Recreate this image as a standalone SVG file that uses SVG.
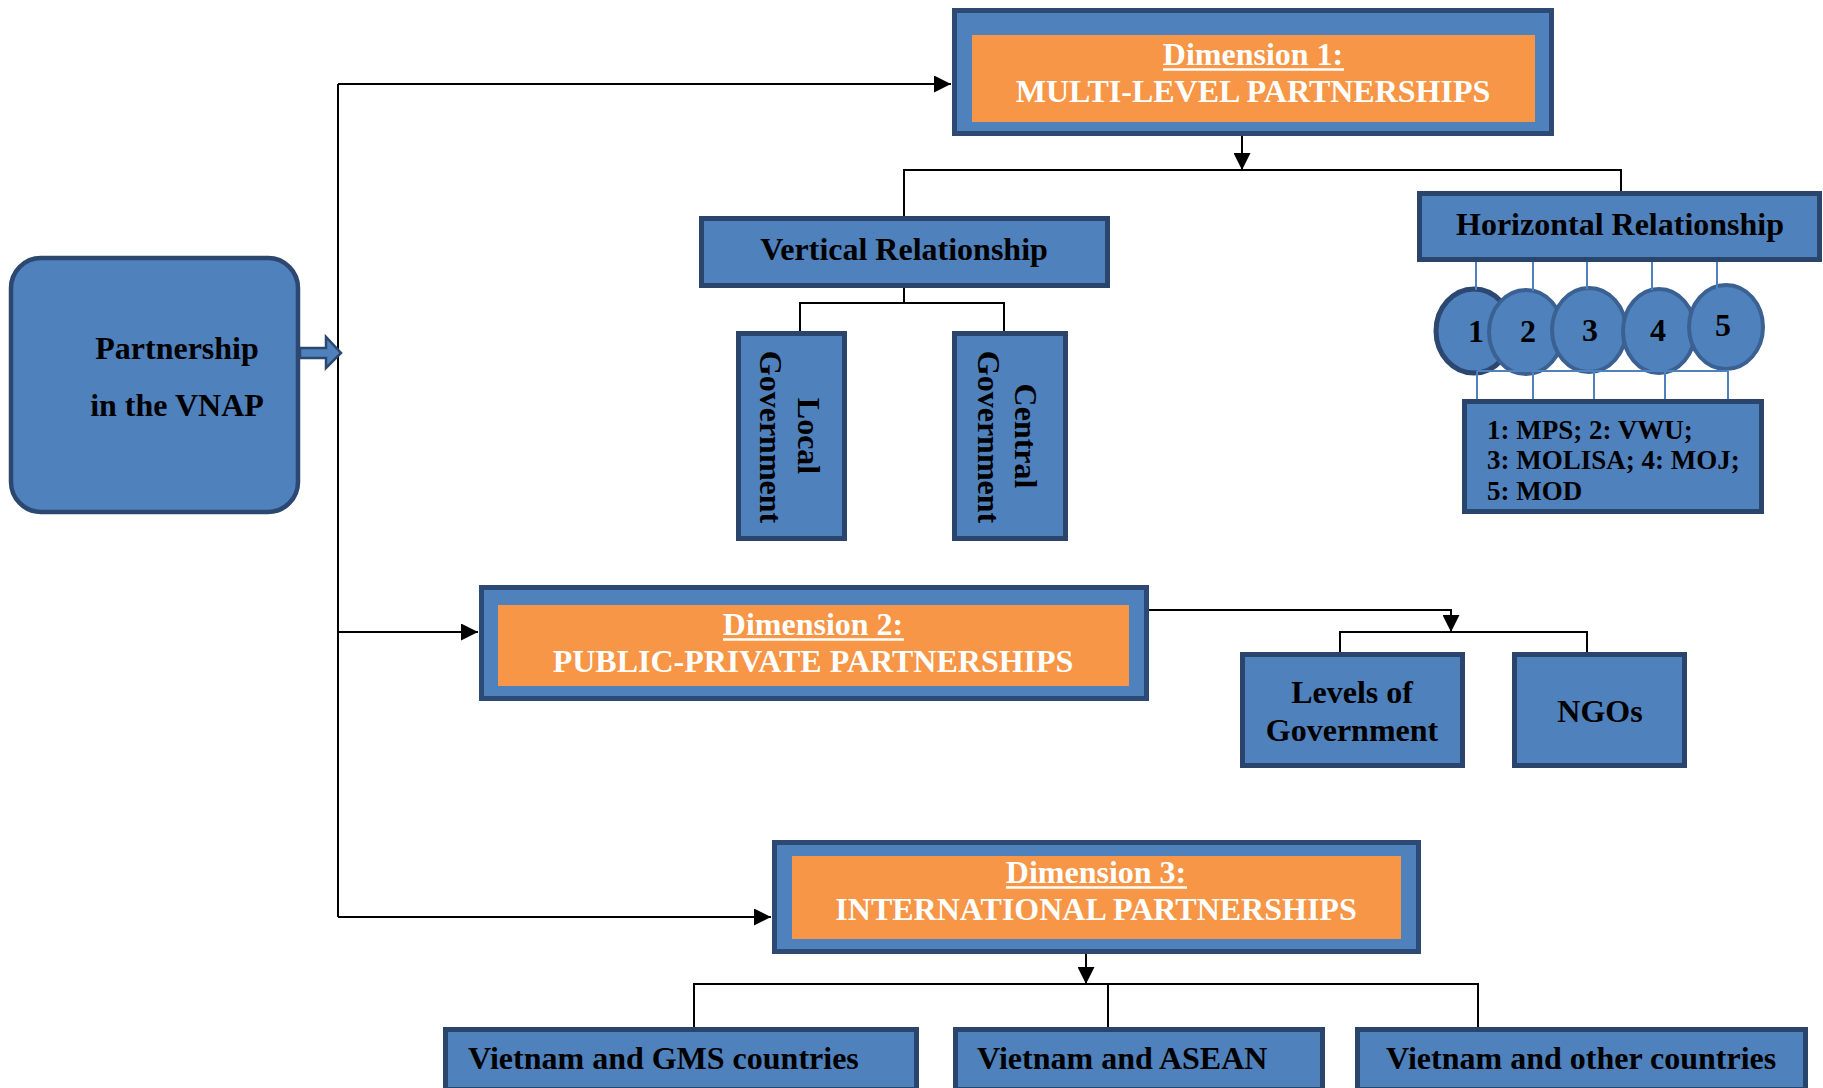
<svg xmlns="http://www.w3.org/2000/svg" width="1823" height="1088" viewBox="0 0 1823 1088">
<defs>
<style>
.box{fill:#4f81bd;stroke:#29456b;stroke-width:5}
.dim{fill:#4f81bd;stroke:#2c4a74;stroke-width:5}
.org{fill:#f79646}
.t{font-family:"Liberation Serif","Times New Roman",serif;font-weight:bold;font-size:32px;fill:#000}
.w{fill:#fff}
.m{text-anchor:middle}
.conn{stroke:#000;stroke-width:2;fill:none}
.thin{stroke:#4f81bd;stroke-width:2;fill:none}
.circ{fill:#4f81bd;stroke:#3a6192;stroke-width:4}
.ul{stroke:#fff;stroke-width:2.5}
</style>
<marker id="ah" viewBox="0 0 10 10" refX="10" refY="5" markerWidth="17" markerHeight="17" markerUnits="userSpaceOnUse" orient="auto">
<path d="M0,0 L10,5 L0,10 z" fill="#000"/>
</marker>
</defs>
<rect width="1823" height="1088" fill="#fff"/>

<g id="connectors">
<path class="conn" d="M338,84 V917"/>
<path class="conn" d="M338,84 H951" marker-end="url(#ah)"/>
<path class="conn" d="M338,632 H478" marker-end="url(#ah)"/>
<path class="conn" d="M338,917 H771" marker-end="url(#ah)"/>
<path class="conn" d="M1242,136 V170" marker-end="url(#ah)"/>
<path class="conn" d="M904,216 V170 H1621 V192"/>
<path class="conn" d="M904,288 V303"/>
<path class="conn" d="M800,332 V303 H1004 V332"/>
<path class="conn" d="M1149,610 H1451 V632" marker-end="url(#ah)"/>
<path class="conn" d="M1340,653 V632 H1587 V653"/>
<path class="conn" d="M1086,954 V984" marker-end="url(#ah)"/>
<path class="conn" d="M694,1028 V984 H1478 V1028"/>
<path class="conn" d="M1108,984 V1028"/>
</g>

<g id="main">
<rect x="11" y="258" width="287" height="254" rx="30" fill="#4f81bd" stroke="#2c4770" stroke-width="4.5"/>
<text class="t m" x="177" y="359">Partnership</text>
<text class="t m" x="177" y="416">in the VNAP</text>
<path d="M300,348 H326 V337 L341,353 L326,368 V358 H300 Z" fill="#4f81bd" stroke="#2c4770" stroke-width="2.5"/>
</g>

<g id="dim1">
<rect class="dim" x="954.5" y="10.5" width="597" height="123"/>
<rect class="org" x="972" y="35" width="563" height="87"/>
<text class="t w m" x="1253" y="65">Dimension 1:</text>
<line class="ul" x1="1163" y1="69.5" x2="1344" y2="69.5"/>
<text class="t w m" x="1253" y="102">MULTI-LEVEL PARTNERSHIPS</text>
</g>

<g id="vertical">
<rect class="box" x="701.5" y="218.5" width="406" height="67"/>
<text class="t m" x="904" y="260">Vertical Relationship</text>
</g>

<g id="local">
<rect class="box" x="738.5" y="333.5" width="106" height="205"/>
<text class="t m" transform="translate(798,436) rotate(90)">Local</text>
<text class="t m" transform="translate(760,437) rotate(90)">Government</text>
</g>

<g id="central">
<rect class="box" x="954.5" y="333.5" width="111" height="205"/>
<text class="t m" transform="translate(1015,436) rotate(90)">Central</text>
<text class="t m" transform="translate(978,437) rotate(90)">Government</text>
</g>

<g id="horizontal">
<rect class="box" x="1419.5" y="193.5" width="400" height="66"/>
<text class="t m" x="1620" y="235">Horizontal Relationship</text>
</g>

<g id="circles">
<ellipse cx="1474" cy="331" rx="38" ry="42" fill="#4f81bd" stroke="#2c4770" stroke-width="5"/>
<text class="t m" x="1476" y="342">1</text>
<ellipse class="circ" cx="1526" cy="332" rx="37" ry="42"/>
<text class="t m" x="1528" y="342">2</text>
<ellipse class="circ" cx="1589" cy="330" rx="37" ry="42"/>
<text class="t m" x="1590" y="341">3</text>
<ellipse class="circ" cx="1659" cy="331" rx="36" ry="42"/>
<text class="t m" x="1658" y="341">4</text>
<ellipse class="circ" cx="1726" cy="327" rx="37" ry="42"/>
<text class="t m" x="1723" y="336">5</text>
</g>

<g id="circle-links">
<path class="thin" d="M1476,262 V290 M1533,262 V291 M1587,262 V289 M1652,262 V290 M1717,262 V293"/>
<path class="thin" d="M1477,371 H1728 M1477,371 V400 M1533,371 V400 M1594,371 V400 M1665,371 V400 M1728,371 V400"/>
</g>

<g id="legend">
<rect class="box" x="1464.5" y="401.5" width="297" height="110"/>
<text class="t" x="1487" y="439" style="font-size:27px">1: MPS; 2: VWU;</text>
<text class="t" x="1487" y="469" style="font-size:27px">3: MOLISA; 4: MOJ;</text>
<text class="t" x="1487" y="500" style="font-size:27px">5: MOD</text>
</g>

<g id="dim2">
<rect class="dim" x="481.5" y="587.5" width="665" height="111"/>
<rect class="org" x="498" y="605" width="631" height="81"/>
<text class="t w m" x="813" y="635">Dimension 2:</text>
<line class="ul" x1="723" y1="639.5" x2="904" y2="639.5"/>
<text class="t w m" x="813" y="672">PUBLIC-PRIVATE PARTNERSHIPS</text>
</g>

<g id="levels">
<rect class="box" x="1242.5" y="654.5" width="220" height="111"/>
<text class="t m" x="1352" y="703">Levels of</text>
<text class="t m" x="1352" y="741">Government</text>
</g>

<g id="ngos">
<rect class="box" x="1514.5" y="654.5" width="170" height="111"/>
<text class="t m" x="1600" y="722">NGOs</text>
</g>

<g id="dim3">
<rect class="dim" x="774.5" y="842.5" width="644" height="109"/>
<rect class="org" x="792" y="856" width="609" height="83"/>
<text class="t w m" x="1096" y="883">Dimension 3:</text>
<line class="ul" x1="1006" y1="887.5" x2="1187" y2="887.5"/>
<text class="t w m" x="1096" y="920">INTERNATIONAL PARTNERSHIPS</text>
</g>

<g id="gms">
<rect class="box" x="445.5" y="1029.5" width="471" height="60"/>
<text class="t" x="468" y="1069">Vietnam and GMS countries</text>
</g>

<g id="asean">
<rect class="box" x="955.5" y="1029.5" width="367" height="60"/>
<text class="t" x="977" y="1069">Vietnam and ASEAN</text>
</g>

<g id="other">
<rect class="box" x="1357.5" y="1029.5" width="448" height="60"/>
<text class="t" x="1386" y="1069">Vietnam and other countries</text>
</g>
</svg>
